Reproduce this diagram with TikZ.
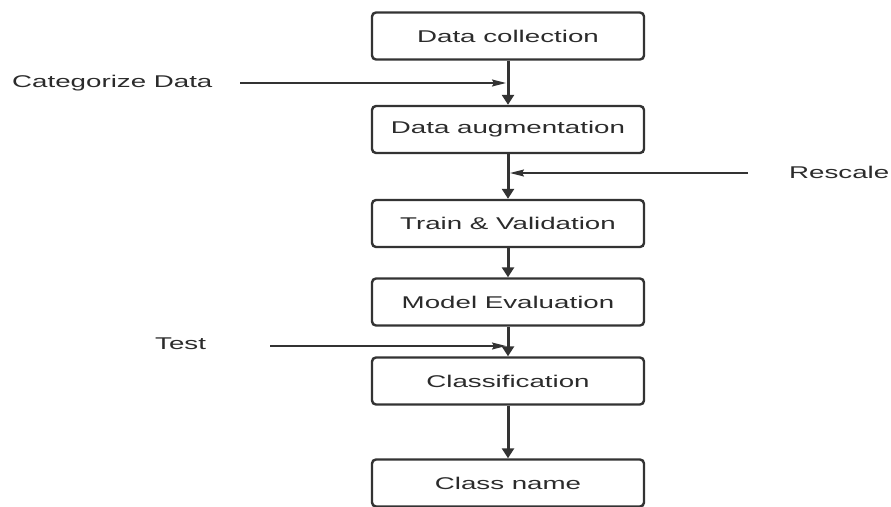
\documentclass[tikz,border=0pt]{standalone}
\usepackage{fontspec}
\setmainfont{Liberation Sans}[FakeStretch=1.63]
\usetikzlibrary{arrows.meta}
\definecolor{lc}{HTML}{333333}
\definecolor{tc}{HTML}{2b2b2b}
\begin{document}
\begin{tikzpicture}[x=1pt,y=-1pt,
  box/.style={draw=lc, line width=2.4pt, rounded corners=4pt, minimum width=272pt, minimum height=47pt, inner sep=0pt, font=\fontsize{17}{20}\selectfont, text=tc},
  flow/.style={draw=lc, line width=3pt, -{Triangle[length=10pt,width=12pt]}},
  side/.style={draw=lc, line width=1.5pt, -{Stealth[length=14pt,width=7pt,inset=2pt]}},
  lab/.style={font=\fontsize{17}{20}\selectfont, text=tc, inner sep=0pt, anchor=west}]
\path[use as bounding box] (0,0) rectangle (891,506);

\node[box] (dc) at (508,36) {Data collection};
\node[box] (da) at (508,129.5) {Data augmentation};
\node[box] (tv) at (508,223.5) {Train \& Validation};
\node[box] (me) at (508,302) {Model Evaluation};
\node[box] (cl) at (508,381) {Classification};
\node[box] (cn) at (508,483) {Class name};

\draw[flow] (dc.south) -- (da.north);
\draw[flow] (da.south) -- (tv.north);
\draw[flow] (tv.south) -- (me.north);
\draw[flow] (me.south) -- (cl.north);
\draw[flow] (cl.south) -- (cn.north);

\node[lab] (cat) at (12,83) {Categorize Data};
\node[lab] (res) at (789,172) {Rescale};
\node[lab] (tst) at (155,344) {Test};

\coordinate (cats) at (240,83);
\coordinate (cate) at (506,83);
\coordinate (ress) at (748,173);
\coordinate (rese) at (510,173);
\coordinate (tsts) at (270,346);
\coordinate (tste) at (506,346);

\draw[side] (cats) -- (cate);
\draw[side] (ress) -- (rese);
\draw[side] (tsts) -- (tste);
\end{tikzpicture}
\end{document}
